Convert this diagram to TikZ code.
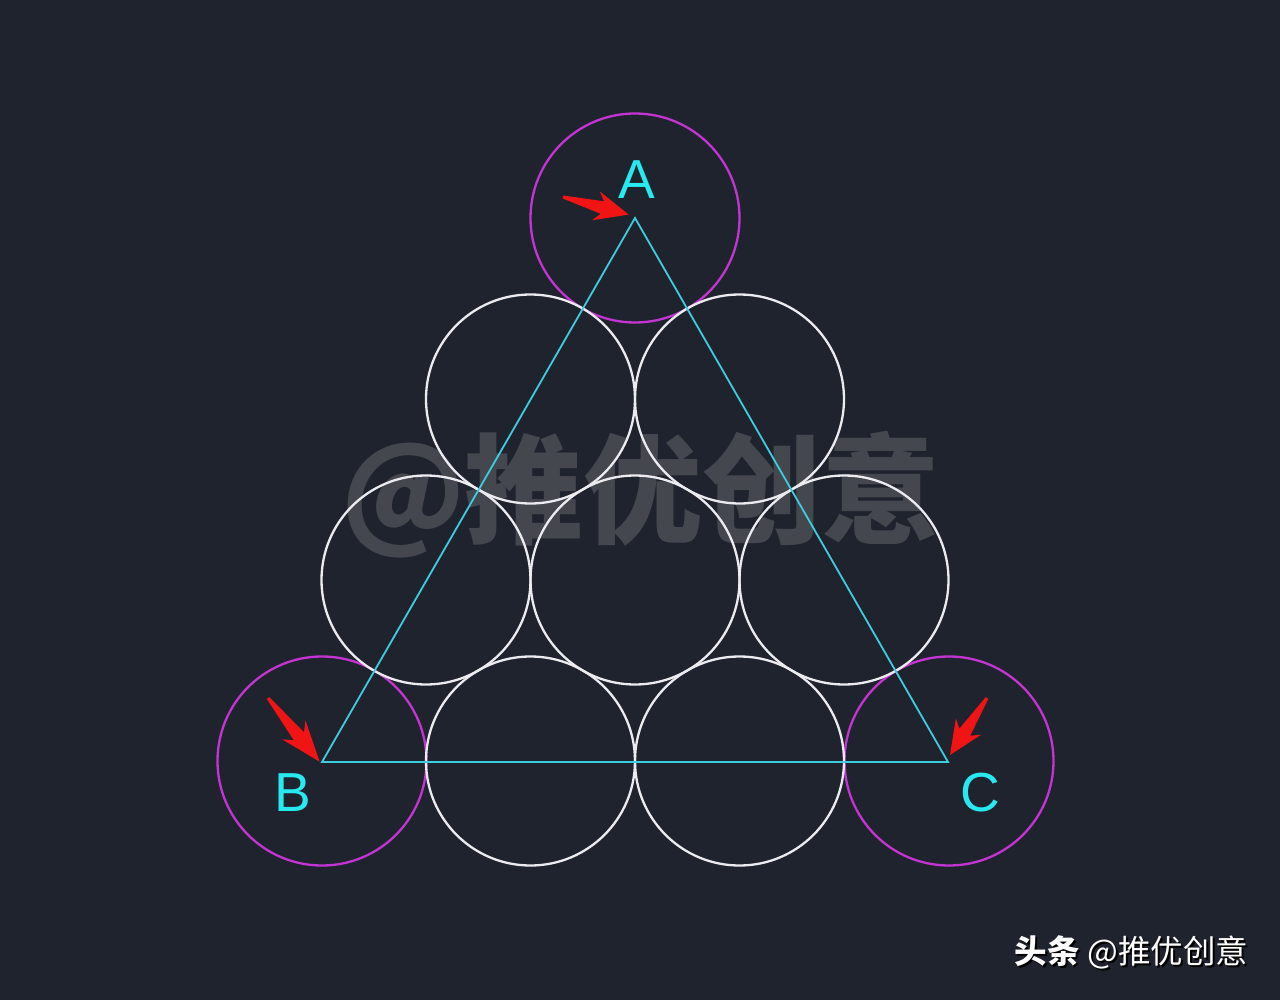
\documentclass[tikz,border=0pt]{standalone}
\usepackage{fontspec}
\setmainfont{Liberation Sans}
\newfontfamily\cjk{Noto Sans CJK SC}
\definecolor{bg}{RGB}{30,35,45}
\definecolor{mag}{RGB}{196,52,210}
\definecolor{wht}{RGB}{235,235,240}
\definecolor{cyn}{RGB}{60,205,225}
\definecolor{lbl}{RGB}{40,232,240}
\definecolor{wm}{RGB}{68,71,78}
\definecolor{wmline}{RGB}{88,91,98}
\definecolor{arr}{RGB}{240,20,20}
\tikzset{
  ball/.style={circle, draw=wht, line width=2.3pt, minimum size=209pt, inner sep=0pt},
  corner/.style={circle, draw=mag, line width=2.3pt, minimum size=209pt, inner sep=0pt},
  tri/.style={draw=cyn, line width=1.8pt, line join=miter},
  vlabel/.style={text=lbl, font=\fontsize{55}{55}\selectfont, inner sep=0pt},
}
\newcommand{\myarrow}[3]{% tail position, angle, length
  \begin{scope}[shift={#1}, rotate=#2, x=1pt, y=1pt]
    \fill[arr] (0,-1.5) -- (0.6*#3,-6.5) -- (0.5*#3,-15) -- (#3,0) -- (0.5*#3,15) -- (0.6*#3,6.5) -- (0,1.5) -- cycle;
  \end{scope}}
\begin{document}
\begin{tikzpicture}[x=1pt, y=-1pt]
  \fill[bg] (0,0) rectangle (1280,1000);
  \useasboundingbox (0,0) rectangle (1280,1000);
  % watermark
  \node[font=\cjk\bfseries\fontsize{119}{119}\selectfont, text=wm, inner sep=0pt] (wmark) at (641,495) {@推优创意};
  % corner circles
  \node[corner] (cA) at (635,218) {};
  \node[corner] (cB) at (322,761) {};
  \node[corner] (cC) at (949,761) {};
  % white circles
  \node[ball] (w1) at (530.5,399) {};
  \node[ball] (w2) at (739.5,399) {};
  \node[ball] (w3) at (426,580) {};
  \node[ball] (w4) at (635,580) {};
  \node[ball] (w5) at (844,580) {};
  \node[ball] (w6) at (530.5,761) {};
  \node[ball] (w7) at (739.5,761) {};
  % triangle
  \coordinate (A) at (635,218);
  \coordinate (B) at (322,762);
  \coordinate (C) at (948,762);
  \draw[tri] (A) -- (B) -- (C) -- cycle;
  % labels
  \node[vlabel] (lA) at (637,180) {A};
  \node[vlabel] (lB) at (293,793) {B};
  \node[vlabel] (lC) at (980,793) {C};
  % red arrows
  \myarrow{(563,197)}{-15}{68}
  \myarrow{(268,698)}{-51}{82}
  \myarrow{(987,698)}{-123}{68}
  % footer
  \node[font=\cjk\fontsize{32.5}{32.5}\selectfont, text=black, inner sep=0pt] at (1133.5,954.5) {{\bfseries 头条} @推优创意};
  \node[font=\cjk\fontsize{32.5}{32.5}\selectfont, text=white, inner sep=0pt] (foot) at (1131.5,952.5) {{\bfseries 头条} @推优创意};
\end{tikzpicture}
\end{document}
